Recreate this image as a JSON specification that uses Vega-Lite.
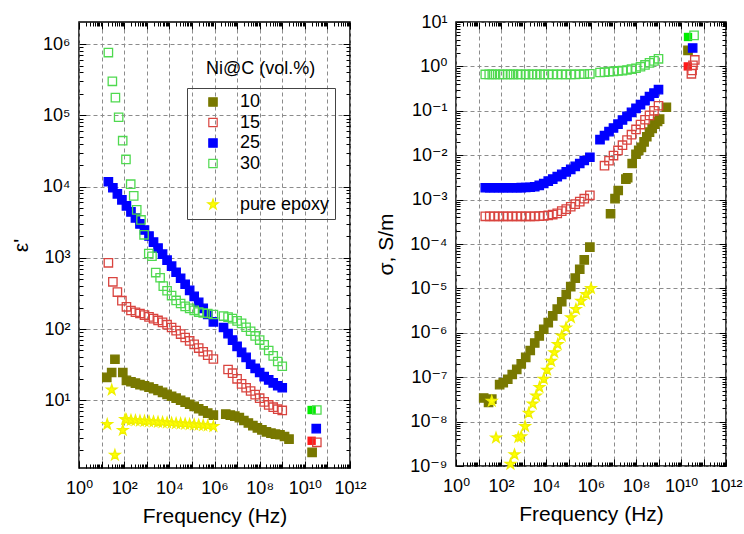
{
  "$schema": "https://vega.github.io/schema/vega-lite/v6.json",
  "background": "white",
  "padding": {"left": 9, "top": 12, "right": 5, "bottom": 5},
  "spacing": 7,
  "config": {
    "font": "Liberation Sans",
    "view": {"stroke": "black", "strokeWidth": 1.5},
    "axis": {
      "domain": false,
      "labelFont": "Liberation Sans, DejaVu Sans",
      "labelFontSize": 18,
      "labelColor": "black",
      "titleFont": "Liberation Sans",
      "titleFontSize": 21,
      "titleFontWeight": "normal",
      "titleColor": "black",
      "tickColor": "black",
      "tickWidth": 1,
      "tickSize": -7,
      "gridDash": [4, 3],
      "gridWidth": 1,
      "labelOverlap": false,
      "labelFlush": false,
      "labelBound": false
    }
  },
  "datasets": {
    "eps": [
      {"s":"10","f":17,"v":21},{"s":"10","f":28,"v":24.5},{"s":"10","f":39,"v":37.6},{"s":"10","f":87,"v":24.5},
      {"s":"10","f":126,"v":19},{"s":"10","f":200,"v":18.2},{"s":"10","f":316,"v":17.4},{"s":"10","f":501,"v":16.6},{"s":"10","f":794,"v":16},{"s":"10","f":1259,"v":15.3},{"s":"10","f":1995,"v":14.5},{"s":"10","f":3162,"v":13.7},{"s":"10","f":5012,"v":12.9},{"s":"10","f":7943,"v":12.1},{"s":"10","f":12589,"v":11.4},{"s":"10","f":19953,"v":10.7},{"s":"10","f":31623,"v":10},{"s":"10","f":50119,"v":9.4},{"s":"10","f":79433,"v":8.8},{"s":"10","f":125893,"v":8.2},{"s":"10","f":199526,"v":7.6},{"s":"10","f":316228,"v":7.1},{"s":"10","f":501187,"v":6.6},{"s":"10","f":891251,"v":6.2},
      {"s":"10","f":3.162e6,"v":6.4},{"s":"10","f":5.012e6,"v":6.2},{"s":"10","f":7.943e6,"v":6.0},{"s":"10","f":1.259e7,"v":5.7},{"s":"10","f":1.995e7,"v":5.2},{"s":"10","f":3.162e7,"v":4.8},{"s":"10","f":5.012e7,"v":4.4},{"s":"10","f":7.943e7,"v":4.1},{"s":"10","f":1.259e8,"v":3.85},{"s":"10","f":1.995e8,"v":3.6},{"s":"10","f":3.162e8,"v":3.45},{"s":"10","f":5.012e8,"v":3.35},{"s":"10","f":7.943e8,"v":3.28},{"s":"10","f":1.259e9,"v":3.1},{"s":"10","f":1.995e9,"v":2.85},
      {"s":"10","f":2.1e10,"v":1.86},
      {"s":"15","f":20,"v":850},{"s":"15","f":31.6,"v":460},{"s":"15","f":50.1,"v":330},{"s":"15","f":79.4,"v":250},{"s":"15","f":126,"v":205},{"s":"15","f":200,"v":182},{"s":"15","f":316,"v":172},{"s":"15","f":501,"v":165},{"s":"15","f":794,"v":157},{"s":"15","f":1259,"v":148},{"s":"15","f":1995,"v":140},{"s":"15","f":3162,"v":132},{"s":"15","f":5012,"v":124},{"s":"15","f":7943,"v":115},{"s":"15","f":12589,"v":105},{"s":"15","f":19953,"v":95},{"s":"15","f":31623,"v":85},{"s":"15","f":50119,"v":76},{"s":"15","f":79433,"v":68},{"s":"15","f":125893,"v":61},{"s":"15","f":199526,"v":54},{"s":"15","f":316228,"v":48},{"s":"15","f":501187,"v":43},{"s":"15","f":891251,"v":38},
      {"s":"15","f":3.981e6,"v":27},{"s":"15","f":6.31e6,"v":24},{"s":"15","f":1e7,"v":20},{"s":"15","f":1.585e7,"v":17},{"s":"15","f":2.512e7,"v":15},{"s":"15","f":3.981e7,"v":13.5},{"s":"15","f":6.31e7,"v":12},{"s":"15","f":1e8,"v":10.7},{"s":"15","f":1.585e8,"v":9.5},{"s":"15","f":2.512e8,"v":8.6},{"s":"15","f":3.981e8,"v":8.0},{"s":"15","f":6.31e8,"v":7.5},{"s":"15","f":1e9,"v":7.2},
      {"s":"15","f":3.4e10,"v":2.57},
      {"s":"25","f":20,"v":11670},{"s":"25","f":31.6,"v":9610},{"s":"25","f":50.1,"v":7910},{"s":"25","f":79.4,"v":6510},{"s":"25","f":126,"v":5350},{"s":"25","f":200,"v":4400},{"s":"25","f":316,"v":3620},{"s":"25","f":501,"v":2985},{"s":"25","f":794,"v":2455},{"s":"25","f":1259,"v":2020},{"s":"25","f":1995,"v":1663},{"s":"25","f":3162,"v":1368},{"s":"25","f":5012,"v":1125},{"s":"25","f":7943,"v":926},{"s":"25","f":12589,"v":762},{"s":"25","f":19953,"v":627},{"s":"25","f":31623,"v":516},{"s":"25","f":50119,"v":425},{"s":"25","f":79433,"v":349},{"s":"25","f":125893,"v":288},{"s":"25","f":199526,"v":237},{"s":"25","f":316228,"v":195},{"s":"25","f":501187,"v":160},{"s":"25","f":891251,"v":126},
      {"s":"25","f":2.512e6,"v":105},{"s":"25","f":3.981e6,"v":86},{"s":"25","f":6.31e6,"v":70},{"s":"25","f":1e7,"v":57},{"s":"25","f":1.585e7,"v":47},{"s":"25","f":2.512e7,"v":40},{"s":"25","f":3.981e7,"v":32},{"s":"25","f":6.31e7,"v":28},{"s":"25","f":1e8,"v":24.5},{"s":"25","f":1.585e8,"v":21.5},{"s":"25","f":2.512e8,"v":19.3},{"s":"25","f":3.981e8,"v":17.5},{"s":"25","f":6.31e8,"v":16},{"s":"25","f":1e9,"v":15},
      {"s":"25","f":3.2e10,"v":4.0},
      {"s":"30","f":20,"v":760000},{"s":"30","f":30,"v":300000},{"s":"30","f":41,"v":177000},{"s":"30","f":57,"v":94000},{"s":"30","f":86,"v":44000},{"s":"30","f":120,"v":24000},{"s":"30","f":195,"v":10800},{"s":"30","f":265,"v":7400},{"s":"30","f":360,"v":4700},{"s":"30","f":556,"v":3400},{"s":"30","f":760,"v":2100},{"s":"30","f":1230,"v":1150},{"s":"30","f":1700,"v":1050},{"s":"30","f":2500,"v":620},{"s":"30","f":3900,"v":525},{"s":"30","f":5400,"v":400},{"s":"30","f":7943,"v":345},{"s":"30","f":12589,"v":295},{"s":"30","f":19953,"v":252},{"s":"30","f":31623,"v":228},{"s":"30","f":50119,"v":208},{"s":"30","f":79433,"v":195},{"s":"30","f":125893,"v":183},{"s":"30","f":199526,"v":173},{"s":"30","f":316228,"v":168},{"s":"30","f":501187,"v":165},{"s":"30","f":891251,"v":160},
      {"s":"30","f":2.512e6,"v":152},{"s":"30","f":3.981e6,"v":147},{"s":"30","f":6.31e6,"v":140},{"s":"30","f":1e7,"v":130},{"s":"30","f":1.585e7,"v":120},{"s":"30","f":2.512e7,"v":106},{"s":"30","f":3.981e7,"v":93},{"s":"30","f":6.31e7,"v":80},{"s":"30","f":1e8,"v":70},{"s":"30","f":1.585e8,"v":60},{"s":"30","f":2.512e8,"v":50},{"s":"30","f":3.981e8,"v":42},{"s":"30","f":6.31e8,"v":35},{"s":"30","f":1e9,"v":30},
      {"s":"30","f":3.4e10,"v":7.3},
      {"s":"pure epoxy","f":17.8,"v":4.6},{"s":"pure epoxy","f":28.2,"v":14},{"s":"pure epoxy","f":38.9,"v":1.7},{"s":"pure epoxy","f":87,"v":3.8},{"s":"pure epoxy","f":110,"v":5.4},{"s":"pure epoxy","f":126,"v":5.3},{"s":"pure epoxy","f":200,"v":5.25},{"s":"pure epoxy","f":316,"v":5.2},{"s":"pure epoxy","f":501,"v":5.15},{"s":"pure epoxy","f":794,"v":5.1},{"s":"pure epoxy","f":1259,"v":5.05},{"s":"pure epoxy","f":1995,"v":5.0},{"s":"pure epoxy","f":3162,"v":4.95},{"s":"pure epoxy","f":5012,"v":4.9},{"s":"pure epoxy","f":7943,"v":4.85},{"s":"pure epoxy","f":12589,"v":4.8},{"s":"pure epoxy","f":19953,"v":4.75},{"s":"pure epoxy","f":31623,"v":4.7},{"s":"pure epoxy","f":50119,"v":4.65},{"s":"pure epoxy","f":79433,"v":4.6},{"s":"pure epoxy","f":125893,"v":4.55},{"s":"pure epoxy","f":199526,"v":4.5},{"s":"pure epoxy","f":316228,"v":4.45},{"s":"pure epoxy","f":501187,"v":4.4},{"s":"pure epoxy","f":891251,"v":4.3}
    ],
    "epsFilled": [
      {"s":"30","f":2.0e10,"v":7.3},{"s":"15","f":2.0e10,"v":2.7}
    ],
    "epsNote": [
      {"label":"Ni@C (vol.%)","f":1.1e8,"v":4.5e5}
    ],
    "sig": [
      {"s":"10","f":17,"v":3.4e-8},{"s":"10","f":28,"v":2.7e-8},{"s":"10","f":39,"v":3.2e-8},{"s":"10","f":87,"v":6.8e-8},{"s":"10","f":126,"v":7.5e-8},{"s":"10","f":200,"v":9e-8},{"s":"10","f":316,"v":1.15e-7},{"s":"10","f":501,"v":1.5e-7},{"s":"10","f":794,"v":2.0e-7},{"s":"10","f":1259,"v":2.8e-7},{"s":"10","f":1995,"v":4.0e-7},{"s":"10","f":3162,"v":5.9e-7},{"s":"10","f":5012,"v":8.5e-7},{"s":"10","f":7943,"v":1.2e-6},{"s":"10","f":12589,"v":1.7e-6},{"s":"10","f":19953,"v":2.4e-6},{"s":"10","f":31623,"v":3.4e-6},{"s":"10","f":50119,"v":5.0e-6},{"s":"10","f":79433,"v":7.3e-6},{"s":"10","f":125893,"v":1.1e-5},{"s":"10","f":199526,"v":1.7e-5},{"s":"10","f":316228,"v":2.7e-5},{"s":"10","f":501187,"v":4.4e-5},{"s":"10","f":891251,"v":8.5e-5},
      {"s":"10","f":7.4e6,"v":4.8e-4},{"s":"10","f":1.17e7,"v":1.05e-3},{"s":"10","f":1.62e7,"v":1.6e-3},{"s":"10","f":3.55e7,"v":2.9e-3},{"s":"10","f":4.27e7,"v":3.1e-3},{"s":"10","f":6.76e7,"v":6.5e-3},{"s":"10","f":1e8,"v":0.0105},{"s":"10","f":1.32e8,"v":0.0128},{"s":"10","f":1.74e8,"v":0.015},{"s":"10","f":2.29e8,"v":0.02},{"s":"10","f":3.02e8,"v":0.026},{"s":"10","f":3.98e8,"v":0.033},{"s":"10","f":5.25e8,"v":0.04},{"s":"10","f":6.92e8,"v":0.05},{"s":"10","f":9.12e8,"v":0.058},{"s":"10","f":1.12e9,"v":0.065},{"s":"10","f":2.24e9,"v":0.12},
      {"s":"10","f":2.05e10,"v":2.3},
      {"s":"15","f":20,"v":4.2e-4},{"s":"15","f":31.6,"v":4.2e-4},{"s":"15","f":50.1,"v":4.2e-4},{"s":"15","f":79.4,"v":4.2e-4},{"s":"15","f":126,"v":4.2e-4},{"s":"15","f":200,"v":4.2e-4},{"s":"15","f":316,"v":4.2e-4},{"s":"15","f":501,"v":4.2e-4},{"s":"15","f":794,"v":4.2e-4},{"s":"15","f":1259,"v":4.2e-4},{"s":"15","f":1995,"v":4.2e-4},{"s":"15","f":3162,"v":4.2e-4},{"s":"15","f":5012,"v":4.25e-4},{"s":"15","f":7943,"v":4.3e-4},{"s":"15","f":12589,"v":4.4e-4},{"s":"15","f":19953,"v":4.6e-4},{"s":"15","f":31623,"v":4.9e-4},{"s":"15","f":50119,"v":5.5e-4},{"s":"15","f":79433,"v":6.1e-4},{"s":"15","f":125893,"v":6.9e-4},{"s":"15","f":199526,"v":7.9e-4},{"s":"15","f":316228,"v":9.0e-4},{"s":"15","f":501187,"v":1.05e-3},{"s":"15","f":891251,"v":1.25e-3},
      {"s":"15","f":3.981e6,"v":5.8e-3},{"s":"15","f":6.31e6,"v":7.5e-3},{"s":"15","f":1e7,"v":0.0098},{"s":"15","f":1.585e7,"v":0.0128},{"s":"15","f":2.512e7,"v":0.0168},{"s":"15","f":3.981e7,"v":0.022},{"s":"15","f":6.31e7,"v":0.029},{"s":"15","f":1e8,"v":0.038},{"s":"15","f":1.585e8,"v":0.049},{"s":"15","f":2.512e8,"v":0.063},{"s":"15","f":3.981e8,"v":0.079},{"s":"15","f":6.31e8,"v":0.10},{"s":"15","f":1e9,"v":0.13},
      {"s":"15","f":2.9e10,"v":0.68},{"s":"15","f":3.1e10,"v":0.81},{"s":"15","f":3.4e10,"v":1.06},{"s":"15","f":4.1e10,"v":1.4},
      {"s":"25","f":20,"v":1.85e-3},{"s":"25","f":31.6,"v":1.85e-3},{"s":"25","f":50.1,"v":1.85e-3},{"s":"25","f":79.4,"v":1.85e-3},{"s":"25","f":126,"v":1.85e-3},{"s":"25","f":200,"v":1.85e-3},{"s":"25","f":316,"v":1.85e-3},{"s":"25","f":501,"v":1.85e-3},{"s":"25","f":794,"v":1.86e-3},{"s":"25","f":1259,"v":1.87e-3},{"s":"25","f":1995,"v":1.9e-3},{"s":"25","f":3162,"v":1.95e-3},{"s":"25","f":5012,"v":2.1e-3},{"s":"25","f":7943,"v":2.3e-3},{"s":"25","f":12589,"v":2.6e-3},{"s":"25","f":19953,"v":2.9e-3},{"s":"25","f":31623,"v":3.3e-3},{"s":"25","f":50119,"v":3.7e-3},{"s":"25","f":79433,"v":4.2e-3},{"s":"25","f":125893,"v":4.8e-3},{"s":"25","f":199526,"v":5.6e-3},{"s":"25","f":316228,"v":6.5e-3},{"s":"25","f":501187,"v":7.6e-3},{"s":"25","f":891251,"v":9.0e-3},
      {"s":"25","f":2.512e6,"v":0.0225},{"s":"25","f":3.981e6,"v":0.0275},{"s":"25","f":6.31e6,"v":0.034},{"s":"25","f":1e7,"v":0.041},{"s":"25","f":1.585e7,"v":0.05},{"s":"25","f":2.512e7,"v":0.062},{"s":"25","f":3.981e7,"v":0.075},{"s":"25","f":6.31e7,"v":0.092},{"s":"25","f":1e8,"v":0.113},{"s":"25","f":1.585e8,"v":0.138},{"s":"25","f":2.512e8,"v":0.17},{"s":"25","f":3.981e8,"v":0.21},{"s":"25","f":6.31e8,"v":0.25},{"s":"25","f":1e9,"v":0.30},
      {"s":"25","f":3.3e10,"v":2.6},
      {"s":"30","f":20,"v":0.66},{"s":"30","f":30,"v":0.66},{"s":"30","f":41,"v":0.66},{"s":"30","f":57,"v":0.66},{"s":"30","f":86,"v":0.66},{"s":"30","f":120,"v":0.66},{"s":"30","f":195,"v":0.66},{"s":"30","f":265,"v":0.66},{"s":"30","f":360,"v":0.66},{"s":"30","f":556,"v":0.66},{"s":"30","f":760,"v":0.66},{"s":"30","f":1230,"v":0.66},{"s":"30","f":1700,"v":0.66},{"s":"30","f":2500,"v":0.66},{"s":"30","f":3900,"v":0.66},{"s":"30","f":5400,"v":0.66},{"s":"30","f":7943,"v":0.66},{"s":"30","f":12589,"v":0.66},{"s":"30","f":19953,"v":0.66},{"s":"30","f":31623,"v":0.66},{"s":"30","f":50119,"v":0.66},{"s":"30","f":79433,"v":0.66},{"s":"30","f":125893,"v":0.66},{"s":"30","f":199526,"v":0.66},{"s":"30","f":316228,"v":0.665},{"s":"30","f":501187,"v":0.67},{"s":"30","f":891251,"v":0.68},
      {"s":"30","f":2.512e6,"v":0.73},{"s":"30","f":3.981e6,"v":0.74},{"s":"30","f":6.31e6,"v":0.76},{"s":"30","f":1e7,"v":0.77},{"s":"30","f":1.585e7,"v":0.79},{"s":"30","f":2.512e7,"v":0.80},{"s":"30","f":3.981e7,"v":0.83},{"s":"30","f":6.31e7,"v":0.87},{"s":"30","f":1e8,"v":0.91},{"s":"30","f":1.585e8,"v":0.98},{"s":"30","f":2.512e8,"v":1.08},{"s":"30","f":3.981e8,"v":1.2},{"s":"30","f":6.31e8,"v":1.33},{"s":"30","f":1e9,"v":1.48},
      {"s":"30","f":3.8e10,"v":5.0},
      {"s":"pure epoxy","f":38.9,"v":2.9e-8},{"s":"pure epoxy","f":60,"v":4.3e-9},{"s":"pure epoxy","f":263,"v":1.1e-9},{"s":"pure epoxy","f":398,"v":1.8e-9},{"s":"pure epoxy","f":589,"v":4.4e-9},{"s":"pure epoxy","f":794,"v":4.6e-9},{"s":"pure epoxy","f":1175,"v":7.8e-9},{"s":"pure epoxy","f":1698,"v":1.55e-8},{"s":"pure epoxy","f":2570,"v":2.5e-8},{"s":"pure epoxy","f":3631,"v":3.8e-8},{"s":"pure epoxy","f":5129,"v":5.9e-8},{"s":"pure epoxy","f":7943,"v":9.1e-8},{"s":"pure epoxy","f":11220,"v":1.45e-7},{"s":"pure epoxy","f":16982,"v":2.3e-7},{"s":"pure epoxy","f":23442,"v":3.6e-7},{"s":"pure epoxy","f":33113,"v":5.5e-7},{"s":"pure epoxy","f":50119,"v":8.5e-7},{"s":"pure epoxy","f":77625,"v":1.3e-6},{"s":"pure epoxy","f":128825,"v":2.2e-6},{"s":"pure epoxy","f":213796,"v":3.4e-6},{"s":"pure epoxy","f":363078,"v":5.2e-6},{"s":"pure epoxy","f":602560,"v":7.4e-6},{"s":"pure epoxy","f":1000000,"v":1.0e-5}
    ],
    "sigFilled": [
      {"s":"30","f":2.05e10,"v":4.6},{"s":"15","f":2.0e10,"v":1.0}
    ]
  },
  "resolve": {
    "scale": {"x": "independent", "y": "independent", "fill": "independent", "stroke": "independent", "shape": "independent", "color": "independent"},
    "legend": {"fill": "independent", "stroke": "independent", "shape": "independent", "color": "independent"}
  },
  "hconcat": [
    {
      "width": 271,
      "height": 446,
      "resolve": {"axis": {"x": "independent", "y": "independent"}},
      "layer": [
        {
          "encoding": {
            "x": {
              "field": "f", "type": "quantitative",
              "scale": {"type": "log", "domain": [1, 1e12], "nice": false},
              "axis": {
                "orient": "bottom", "title": "Frequency (Hz)", "titlePadding": 8, "labelPadding": 18, "grid": true,
                "values": [1,2,3,4,5,6,7,8,9,10,20,30,40,50,60,70,80,90,100,200,300,400,500,600,700,800,900,1000,2000,3000,4000,5000,6000,7000,8000,9000,1e4,2e4,3e4,4e4,5e4,6e4,7e4,8e4,9e4,1e5,2e5,3e5,4e5,5e5,6e5,7e5,8e5,9e5,1e6,2e6,3e6,4e6,5e6,6e6,7e6,8e6,9e6,1e7,2e7,3e7,4e7,5e7,6e7,7e7,8e7,9e7,1e8,2e8,3e8,4e8,5e8,6e8,7e8,8e8,9e8,1e9,2e9,3e9,4e9,5e9,6e9,7e9,8e9,9e9,1e10,2e10,3e10,4e10,5e10,6e10,7e10,8e10,9e10,1e11,2e11,3e11,4e11,5e11,6e11,7e11,8e11,9e11,1e12],
                "labelExpr": "abs(log(datum.value)/LN10 - round(log(datum.value)/LN10)) < 0.001 && round(log(datum.value)/LN10) % 2 == 0 ? '10' + (round(log(datum.value)/LN10) >= 10 ? '¹' : '') + ['⁰','¹','²','³','⁴','⁵','⁶','⁷','⁸','⁹'][round(log(datum.value)/LN10) % 10] : ''",
                "tickDash": {"condition": {"test": "abs(log(datum.value)/LN10 - round(log(datum.value)/LN10)) < 0.001", "value": [20, 0]}, "value": [4, 20]},
                "gridColor": {"condition": {"test": "abs(log(datum.value)/LN10 - round(log(datum.value)/LN10)) < 0.001", "value": "#8c8c8c"}, "value": "transparent"}
              }
            },
            "y": {
              "field": "v", "type": "quantitative",
              "scale": {"type": "log", "domain": [1.12, 2.04e6], "nice": false},
              "axis": {
                "orient": "left", "title": "ε'", "titlePadding": 11, "labelPadding": 16, "grid": true,
                "values": [2,3,4,5,6,7,8,9,10,20,30,40,50,60,70,80,90,100,200,300,400,500,600,700,800,900,1000,2000,3000,4000,5000,6000,7000,8000,9000,1e4,2e4,3e4,4e4,5e4,6e4,7e4,8e4,9e4,1e5,2e5,3e5,4e5,5e5,6e5,7e5,8e5,9e5,1e6],
                "labelExpr": "abs(log(datum.value)/LN10 - round(log(datum.value)/LN10)) < 0.001 ? '10' + ['⁰','¹','²','³','⁴','⁵','⁶','⁷','⁸','⁹'][round(log(datum.value)/LN10)] : ''",
                "tickDash": {"condition": {"test": "abs(log(datum.value)/LN10 - round(log(datum.value)/LN10)) < 0.001", "value": [20, 0]}, "value": [4, 20]},
                "gridColor": {"condition": {"test": "abs(log(datum.value)/LN10 - round(log(datum.value)/LN10)) < 0.001", "value": "#8c8c8c"}, "value": "transparent"}
              }
            }
          },
          "layer": [
            {
              "data": {"name": "epsFilled"},
              "mark": {"type": "point", "filled": true, "shape": "square", "size": 70, "opacity": 1},
              "encoding": {
                "color": {"field": "s", "type": "nominal", "scale": {"domain": ["15", "30"], "range": ["#ff1a1a", "#00ee00"]}, "legend": null}
              }
            },
            {
              "data": {"name": "eps"},
              "mark": {"type": "point", "filled": true, "size": 70, "strokeWidth": 1.3, "opacity": 1},
              "encoding": {
                "fill": {"field": "s", "type": "nominal",
                  "scale": {"domain": ["10", "15", "25", "30", " ", "pure epoxy"], "range": ["#787800", "transparent", "#0000ff", "transparent", "transparent", "#ffff00"]},
                  "legend": {"orient": "none", "legendX": 108, "legendY": 66, "title": null, "strokeColor": "#444", "padding": 5, "labelFontSize": 18, "labelFont": "Liberation Sans", "labelColor": "black", "symbolOffset": 12, "labelOffset": 18, "rowPadding": 2.5, "symbolStrokeWidth": 1.2, "symbolSize": 70}},
                "stroke": {"field": "s", "type": "nominal",
                  "scale": {"domain": ["10", "15", "25", "30", " ", "pure epoxy"], "range": ["#787800", "#d9443f", "#0000ff", "#4fd94f", "transparent", "#f0f000"]},
                  "legend": {"orient": "none", "legendX": 108, "legendY": 66, "title": null, "strokeColor": "#444", "padding": 5, "labelFontSize": 18, "labelFont": "Liberation Sans", "labelColor": "black", "symbolOffset": 12, "labelOffset": 18, "rowPadding": 2.5, "symbolStrokeWidth": 1.2, "symbolSize": 70}},
                "shape": {"field": "s", "type": "nominal",
                  "scale": {"domain": ["10", "15", "25", "30", " ", "pure epoxy"], "range": ["square", "square", "square", "square", "square", "M0,-1.3L0.294,-0.405L1.236,-0.402L0.476,0.155L0.764,1.052L0,0.5L-0.764,1.052L-0.476,0.155L-1.236,-0.402L-0.294,-0.405Z"]},
                  "legend": {"orient": "none", "legendX": 108, "legendY": 66, "title": null, "strokeColor": "#444", "padding": 5, "labelFontSize": 18, "labelFont": "Liberation Sans", "labelColor": "black", "symbolOffset": 12, "labelOffset": 18, "rowPadding": 2.5, "symbolStrokeWidth": 1.2, "symbolSize": 70}}
              }
            }
          ]
        },
        {
          "data": {"name": "epsNote"},
          "mark": {"type": "text", "font": "Liberation Sans", "fontSize": 18, "align": "center", "baseline": "middle", "color": "black"},
          "encoding": {
            "x": {"field": "f", "type": "quantitative", "scale": {"type": "log", "domain": [1, 1e12], "nice": false}, "axis": null},
            "y": {"field": "v", "type": "quantitative", "scale": {"type": "log", "domain": [1.12, 2.04e6], "nice": false}, "axis": null},
            "text": {"field": "label", "type": "nominal"}
          }
        },
        {
          "data": {"name": "eps"},
          "mark": {"type": "point", "opacity": 0},
          "encoding": {
            "x": {
              "field": "f", "type": "quantitative",
              "scale": {"type": "log", "domain": [1, 1e12], "nice": false},
              "axis": {
                "orient": "top", "title": null, "labels": false, "grid": false,
                "values": [1,2,3,4,5,6,7,8,9,10,20,30,40,50,60,70,80,90,100,200,300,400,500,600,700,800,900,1000,2000,3000,4000,5000,6000,7000,8000,9000,1e4,2e4,3e4,4e4,5e4,6e4,7e4,8e4,9e4,1e5,2e5,3e5,4e5,5e5,6e5,7e5,8e5,9e5,1e6,2e6,3e6,4e6,5e6,6e6,7e6,8e6,9e6,1e7,2e7,3e7,4e7,5e7,6e7,7e7,8e7,9e7,1e8,2e8,3e8,4e8,5e8,6e8,7e8,8e8,9e8,1e9,2e9,3e9,4e9,5e9,6e9,7e9,8e9,9e9,1e10,2e10,3e10,4e10,5e10,6e10,7e10,8e10,9e10,1e11,2e11,3e11,4e11,5e11,6e11,7e11,8e11,9e11,1e12],
                "tickDash": {"condition": {"test": "abs(log(datum.value)/LN10 - round(log(datum.value)/LN10)) < 0.001", "value": [20, 0]}, "value": [4, 20]}
              }
            },
            "y": {
              "field": "v", "type": "quantitative",
              "scale": {"type": "log", "domain": [1.12, 2.04e6], "nice": false},
              "axis": {
                "orient": "right", "title": null, "labels": false, "grid": false,
                "values": [2,3,4,5,6,7,8,9,10,20,30,40,50,60,70,80,90,100,200,300,400,500,600,700,800,900,1000,2000,3000,4000,5000,6000,7000,8000,9000,1e4,2e4,3e4,4e4,5e4,6e4,7e4,8e4,9e4,1e5,2e5,3e5,4e5,5e5,6e5,7e5,8e5,9e5,1e6],
                "tickDash": {"condition": {"test": "abs(log(datum.value)/LN10 - round(log(datum.value)/LN10)) < 0.001", "value": [20, 0]}, "value": [4, 20]}
              }
            }
          }
        }
      ]
    },
    {
      "width": 270,
      "height": 444,
      "resolve": {"axis": {"x": "independent", "y": "independent"}},
      "layer": [
        {
          "encoding": {
            "x": {
              "field": "f", "type": "quantitative",
              "scale": {"type": "log", "domain": [1, 1e12], "nice": false},
              "axis": {
                "orient": "bottom", "title": "Frequency (Hz)", "titlePadding": 8, "labelPadding": 18, "grid": true,
                "values": [1,2,3,4,5,6,7,8,9,10,20,30,40,50,60,70,80,90,100,200,300,400,500,600,700,800,900,1000,2000,3000,4000,5000,6000,7000,8000,9000,1e4,2e4,3e4,4e4,5e4,6e4,7e4,8e4,9e4,1e5,2e5,3e5,4e5,5e5,6e5,7e5,8e5,9e5,1e6,2e6,3e6,4e6,5e6,6e6,7e6,8e6,9e6,1e7,2e7,3e7,4e7,5e7,6e7,7e7,8e7,9e7,1e8,2e8,3e8,4e8,5e8,6e8,7e8,8e8,9e8,1e9,2e9,3e9,4e9,5e9,6e9,7e9,8e9,9e9,1e10,2e10,3e10,4e10,5e10,6e10,7e10,8e10,9e10,1e11,2e11,3e11,4e11,5e11,6e11,7e11,8e11,9e11,1e12],
                "labelExpr": "abs(log(datum.value)/LN10 - round(log(datum.value)/LN10)) < 0.001 && round(log(datum.value)/LN10) % 2 == 0 ? '10' + (round(log(datum.value)/LN10) >= 10 ? '¹' : '') + ['⁰','¹','²','³','⁴','⁵','⁶','⁷','⁸','⁹'][round(log(datum.value)/LN10) % 10] : ''",
                "tickDash": {"condition": {"test": "abs(log(datum.value)/LN10 - round(log(datum.value)/LN10)) < 0.001", "value": [20, 0]}, "value": [4, 20]},
                "gridColor": {"condition": {"test": "abs(log(datum.value)/LN10 - round(log(datum.value)/LN10)) < 0.001", "value": "#8c8c8c"}, "value": "transparent"}
              }
            },
            "y": {
              "field": "v", "type": "quantitative",
              "scale": {"type": "log", "domain": [1e-9, 10], "nice": false},
              "axis": {
                "orient": "left", "title": "σ, S/m", "titlePadding": 13, "labelPadding": 16, "grid": true,
                "values": [1e-9,2e-9,3e-9,4e-9,5e-9,6e-9,7e-9,8e-9,9e-9,1e-8,2e-8,3e-8,4e-8,5e-8,6e-8,7e-8,8e-8,9e-8,1e-7,2e-7,3e-7,4e-7,5e-7,6e-7,7e-7,8e-7,9e-7,1e-6,2e-6,3e-6,4e-6,5e-6,6e-6,7e-6,8e-6,9e-6,1e-5,2e-5,3e-5,4e-5,5e-5,6e-5,7e-5,8e-5,9e-5,1e-4,2e-4,3e-4,4e-4,5e-4,6e-4,7e-4,8e-4,9e-4,1e-3,2e-3,3e-3,4e-3,5e-3,6e-3,7e-3,8e-3,9e-3,0.01,0.02,0.03,0.04,0.05,0.06,0.07,0.08,0.09,0.1,0.2,0.3,0.4,0.5,0.6,0.7,0.8,0.9,1,2,3,4,5,6,7,8,9,10],
                "labelExpr": "abs(log(datum.value)/LN10 - round(log(datum.value)/LN10)) < 0.001 ? '10' + (round(log(datum.value)/LN10) < 0 ? '⁻' : '') + ['⁰','¹','²','³','⁴','⁵','⁶','⁷','⁸','⁹'][abs(round(log(datum.value)/LN10))] : ''",
                "tickDash": {"condition": {"test": "abs(log(datum.value)/LN10 - round(log(datum.value)/LN10)) < 0.001", "value": [20, 0]}, "value": [4, 20]},
                "gridColor": {"condition": {"test": "abs(log(datum.value)/LN10 - round(log(datum.value)/LN10)) < 0.001", "value": "#8c8c8c"}, "value": "transparent"}
              }
            }
          },
          "layer": [
            {
              "data": {"name": "sigFilled"},
              "mark": {"type": "point", "filled": true, "shape": "square", "size": 70, "opacity": 1},
              "encoding": {
                "color": {"field": "s", "type": "nominal", "scale": {"domain": ["15", "30"], "range": ["#ff1a1a", "#00ee00"]}, "legend": null}
              }
            },
            {
              "data": {"name": "sig"},
              "mark": {"type": "point", "filled": true, "size": 70, "strokeWidth": 1.3, "opacity": 1},
              "encoding": {
                "fill": {"field": "s", "type": "nominal",
                  "scale": {"domain": ["10", "15", "25", "30", " ", "pure epoxy"], "range": ["#787800", "transparent", "#0000ff", "transparent", "transparent", "#ffff00"]}, "legend": null},
                "stroke": {"field": "s", "type": "nominal",
                  "scale": {"domain": ["10", "15", "25", "30", " ", "pure epoxy"], "range": ["#787800", "#d9443f", "#0000ff", "#4fd94f", "transparent", "#f0f000"]}, "legend": null},
                "shape": {"field": "s", "type": "nominal",
                  "scale": {"domain": ["10", "15", "25", "30", " ", "pure epoxy"], "range": ["square", "square", "square", "square", "square", "M0,-1.3L0.294,-0.405L1.236,-0.402L0.476,0.155L0.764,1.052L0,0.5L-0.764,1.052L-0.476,0.155L-1.236,-0.402L-0.294,-0.405Z"]}, "legend": null}
              }
            }
          ]
        },
        {
          "data": {"name": "sig"},
          "mark": {"type": "point", "opacity": 0},
          "encoding": {
            "x": {
              "field": "f", "type": "quantitative",
              "scale": {"type": "log", "domain": [1, 1e12], "nice": false},
              "axis": {
                "orient": "top", "title": null, "labels": false, "grid": false,
                "values": [1,2,3,4,5,6,7,8,9,10,20,30,40,50,60,70,80,90,100,200,300,400,500,600,700,800,900,1000,2000,3000,4000,5000,6000,7000,8000,9000,1e4,2e4,3e4,4e4,5e4,6e4,7e4,8e4,9e4,1e5,2e5,3e5,4e5,5e5,6e5,7e5,8e5,9e5,1e6,2e6,3e6,4e6,5e6,6e6,7e6,8e6,9e6,1e7,2e7,3e7,4e7,5e7,6e7,7e7,8e7,9e7,1e8,2e8,3e8,4e8,5e8,6e8,7e8,8e8,9e8,1e9,2e9,3e9,4e9,5e9,6e9,7e9,8e9,9e9,1e10,2e10,3e10,4e10,5e10,6e10,7e10,8e10,9e10,1e11,2e11,3e11,4e11,5e11,6e11,7e11,8e11,9e11,1e12],
                "tickDash": {"condition": {"test": "abs(log(datum.value)/LN10 - round(log(datum.value)/LN10)) < 0.001", "value": [20, 0]}, "value": [4, 20]}
              }
            },
            "y": {
              "field": "v", "type": "quantitative",
              "scale": {"type": "log", "domain": [1e-9, 10], "nice": false},
              "axis": {
                "orient": "right", "title": null, "labels": false, "grid": false,
                "values": [1e-9,2e-9,3e-9,4e-9,5e-9,6e-9,7e-9,8e-9,9e-9,1e-8,2e-8,3e-8,4e-8,5e-8,6e-8,7e-8,8e-8,9e-8,1e-7,2e-7,3e-7,4e-7,5e-7,6e-7,7e-7,8e-7,9e-7,1e-6,2e-6,3e-6,4e-6,5e-6,6e-6,7e-6,8e-6,9e-6,1e-5,2e-5,3e-5,4e-5,5e-5,6e-5,7e-5,8e-5,9e-5,1e-4,2e-4,3e-4,4e-4,5e-4,6e-4,7e-4,8e-4,9e-4,1e-3,2e-3,3e-3,4e-3,5e-3,6e-3,7e-3,8e-3,9e-3,0.01,0.02,0.03,0.04,0.05,0.06,0.07,0.08,0.09,0.1,0.2,0.3,0.4,0.5,0.6,0.7,0.8,0.9,1,2,3,4,5,6,7,8,9,10],
                "tickDash": {"condition": {"test": "abs(log(datum.value)/LN10 - round(log(datum.value)/LN10)) < 0.001", "value": [20, 0]}, "value": [4, 20]}
              }
            }
          }
        }
      ]
    }
  ]
}
